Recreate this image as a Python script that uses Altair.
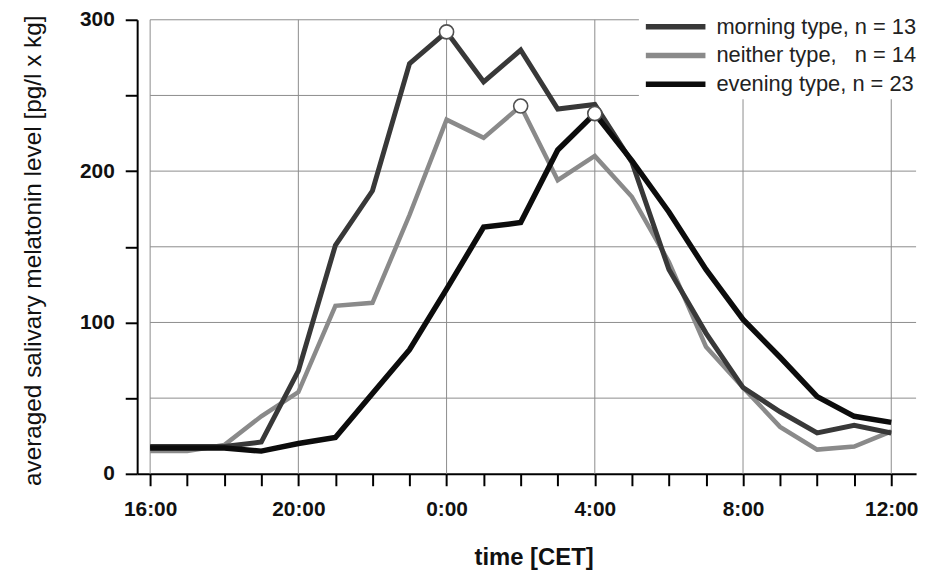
import altair as alt
import pandas as pd

# ---- data ----
hour_offset = [0, 1, 2, 3, 4, 5, 6, 7, 8, 9, 10, 11, 12, 13, 14, 15, 16, 17, 18, 19, 20]
time_labels = ["16:00", "17:00", "18:00", "19:00", "20:00", "21:00", "22:00", "23:00",
               "0:00", "1:00", "2:00", "3:00", "4:00", "5:00", "6:00", "7:00",
               "8:00", "9:00", "10:00", "11:00", "12:00"]
morning = [18, 18, 18, 21, 68, 151, 187, 271, 292, 259, 280, 241, 244, 206, 135, 93, 57, 41, 27, 32, 27]
neither = [15, 15, 19, 38, 54, 111, 113, 171, 234, 222, 243, 194, 210, 183, 140, 84, 57, 31, 16, 18, 28]
evening = [17, 17, 17, 15, 20, 24, 53, 82, 122, 163, 166, 214, 238, 207, 173, 135, 102, 77, 51, 38, 34]
series_names = ["morning type, n = 13", "neither type,\u00a0\u00a0 n = 14", "evening type, n = 23"]
series_colors = ["#383838", "#8a8a8a", "#0c0c0c"]
series_widths = [5, 4.5, 5.5]

y_grid_values = [50, 100, 150, 200, 250, 300]
x_grid_values = [0, 4, 8, 12, 16, 20]
y_tick_values = [0, 50, 100, 150, 200, 250, 300]

X_MIN, X_MAX = -0.35, 20.67
FONT = "Liberation Sans"

rows = []
for name, vals in zip(series_names, [morning, neither, evening]):
    for h, t, v in zip(hour_offset, time_labels, vals):
        rows.append({"series": name, "h": h, "time": t, "value": v})
df = pd.DataFrame(rows)

peaks = []
for name, vals in zip(series_names, [morning, neither, evening]):
    i = vals.index(max(vals))
    peaks.append({"series": name, "h": hour_offset[i], "value": vals[i]})
peak_df = pd.DataFrame(peaks)

x_scale = alt.Scale(domain=[X_MIN, X_MAX], nice=False, zero=False)
y_scale = alt.Scale(domain=[0, 300], nice=False, zero=True)

x_axis = alt.Axis(
    values=hour_offset,
    labelExpr="datum.value % 4 == 0 ? ((datum.value + 16) % 24) + ':00' : ''",
    grid=False, tickSize=12, tickWidth=2, tickColor="black",
    domainColor="black", domainWidth=2,
    labelFont=FONT, labelFontSize=21, labelFontWeight="bold", labelColor="#111",
    labelPadding=13, labelFlush=False,
    title="time [CET]", titleFont=FONT, titleFontSize=24, titleFontWeight="bold",
    titleColor="#111", titleX=399, titleY=84, titleBaseline="middle", titleAlign="center",
)
y_axis = alt.Axis(
    values=y_tick_values,
    labelExpr="datum.value % 100 == 0 ? datum.value : ''",
    grid=False, tickSize=12, tickWidth=2, tickColor="black",
    domainColor="black", domainWidth=2,
    labelFont=FONT, labelFontSize=21, labelFontWeight="bold", labelColor="#111",
    labelPadding=11,
    title="averaged salivary melatonin level [pg/l x kg]", titleFont=FONT,
    titleFontSize=24.5, titleFontWeight="normal", titleColor="#111",
    titleAngle=270, titleX=-104, titleY=232, titleBaseline="middle", titleAlign="center",
)

X = alt.X("h:Q", scale=x_scale, axis=x_axis)
Y = alt.Y("value:Q", scale=y_scale, axis=y_axis)

color = alt.Color(
    "series:N",
    scale=alt.Scale(domain=series_names, range=series_colors),
    legend=alt.Legend(
        orient="none", legendX=505, legendY=-10, title=None,
        fillColor="white", padding=4, symbolType="M-1,0L5,0", symbolSize=400,
        symbolStrokeWidth=5.5, labelFont=FONT, labelFontSize=22, labelColor="#222",
        labelOffset=48, rowPadding=5, labelLimit=320,
    ),
)

vgrid = alt.Chart(pd.DataFrame({"g": x_grid_values})).mark_rule(
    color="#8c8c8c", strokeWidth=1
).encode(
    x=alt.X("g:Q", scale=x_scale, axis=x_axis),
    y=alt.datum(0, type="quantitative", scale=y_scale, axis=y_axis),
    y2=alt.datum(300),
)
hgrid = alt.Chart(pd.DataFrame({"g": y_grid_values})).mark_rule(
    color="#8c8c8c", strokeWidth=1
).encode(
    y=alt.Y("g:Q", scale=y_scale, axis=y_axis),
    x=alt.datum(0, type="quantitative", scale=x_scale, axis=x_axis),
    x2=alt.datum(X_MAX),
)

line_layers = []
for idx in [1, 0, 2]:
    name = series_names[idx]
    line_layers.append(
        alt.Chart(df).transform_filter(alt.datum.series == name)
        .mark_line(strokeWidth=series_widths[idx], strokeJoin="miter", strokeCap="butt")
        .encode(x=X, y=Y, color=color, detail="series:N")
    )

points = alt.Chart(peak_df).mark_point(
    shape="circle", filled=True, fill="white", stroke="#505050", strokeWidth=1.6,
    size=200, opacity=1
).encode(x=X, y=Y)

chart = alt.layer(vgrid, hgrid, *line_layers, points).properties(
    width=784, height=457,
    autosize=alt.AutoSizeParams(type="none"),
    padding={"left": 130, "top": 10, "right": 12, "bottom": 100},
    background="white",
).configure_view(stroke=None)

chart.save("out.html", embed_options={"renderer": "svg", "actions": False})
